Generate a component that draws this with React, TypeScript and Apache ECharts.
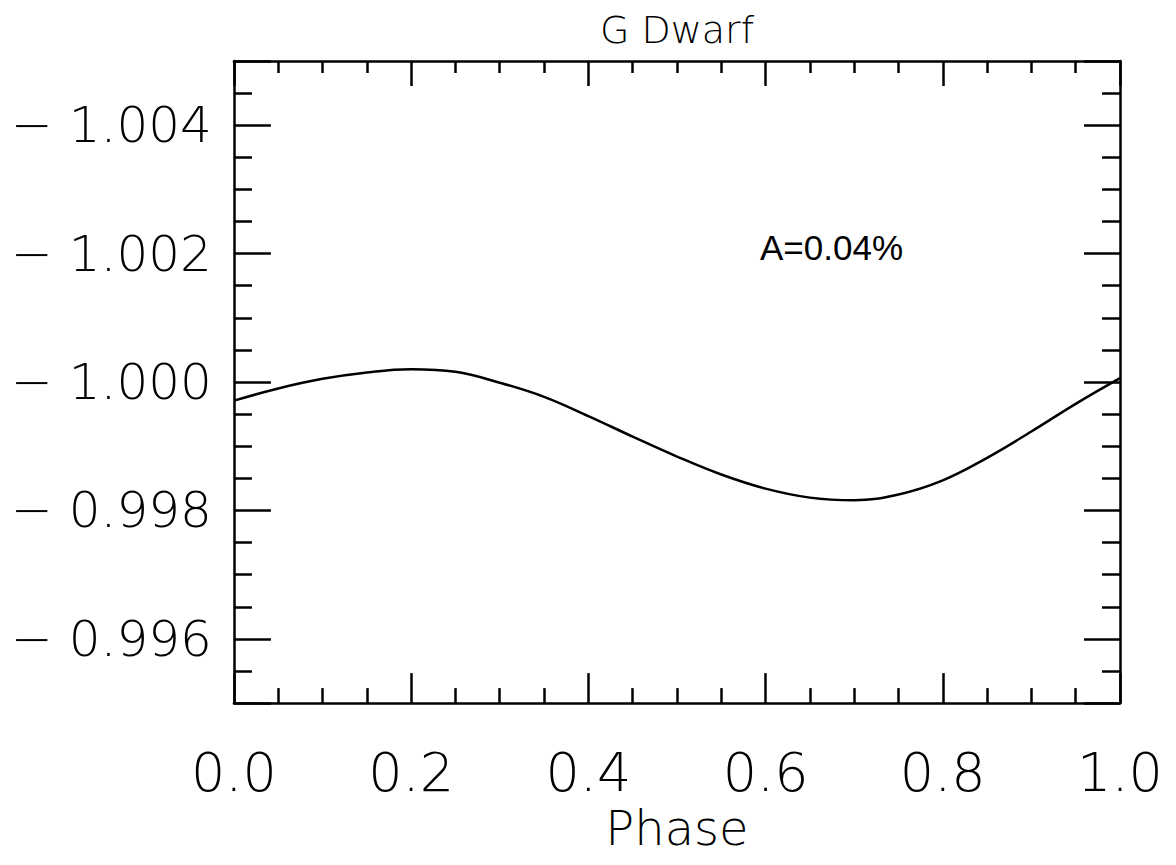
import React, { useEffect, useRef } from "react";
import * as echarts from "echarts";

const phase = [0.0, 0.05, 0.1, 0.15, 0.2, 0.25, 0.3, 0.35, 0.4, 0.45, 0.5, 0.55, 0.6, 0.65, 0.7, 0.75, 0.8, 0.85, 0.9, 0.95, 1.0];
const flux = [-0.99971, -0.9999, -1.00005, -1.00015, -1.0002, -1.00016, -0.99999, -0.99977, -0.99947, -0.99915, -0.99884, -0.99856, -0.99834, -0.9982, -0.99816, -0.99825, -0.99847, -0.99882, -0.99923, -0.99966, -1.00006];
const titleText = "G Dwarf";
const xName = "Phase";
const note = "A=0.04%";

const FONT = "'DejaVu Sans', sans-serif";

export default function App() {
  const ref = useRef<HTMLDivElement>(null);
  useEffect(() => {
    if (!ref.current) return;
    const chart = echarts.init(ref.current, null, { renderer: "svg" });
    const data = phase.map((p, i) => [p, flux[i]]);
    const axisLine = { show: true, onZero: false, lineStyle: { color: "#000", width: 2.5 } };
    const yFmt = (v: number) => (v < 0 ? "\u2212 " : "") + Math.abs(v).toFixed(3);
    chart.setOption({
      animation: false,
      backgroundColor: "#fff",
      title: {
        text: titleText,
        left: 669,
        textAlign: "center",
        top: 3,
        padding: 0,
        textStyle: { fontFamily: FONT, fontWeight: 200, fontSize: 38, color: "#000" },
      },
      grid: { left: 218, right: 48, top: 53, bottom: 143, containLabel: false },
      xAxis: [
        {
          type: "value",
          min: 0,
          max: 1,
          position: "bottom",
          axisLine,
          splitLine: { show: false },
          axisTick: { show: true, inside: true, length: 30, lineStyle: { color: "#000", width: 2.5 } },
          minorTick: { show: true, splitNumber: 4, length: 15, lineStyle: { color: "#000", width: 2.5 } },
          axisLabel: {
            margin: 42,
            fontFamily: FONT,
            fontWeight: 200,
            fontSize: 54,
            color: "#000",
            formatter: (v: number) => v.toFixed(1),
          },
          name: xName,
          nameLocation: "middle",
          nameGap: 100,
          nameTextStyle: { fontFamily: FONT, fontWeight: 200, fontSize: 48, color: "#000" },
        },
        {
          type: "value",
          min: 0,
          max: 1,
          position: "top",
          axisLine,
          splitLine: { show: false },
          axisTick: { show: true, inside: true, length: 25, lineStyle: { color: "#000", width: 2.5 } },
          minorTick: { show: true, splitNumber: 4, length: 12, lineStyle: { color: "#000", width: 2.5 } },
          axisLabel: { show: false },
        },
      ],
      yAxis: [
        {
          type: "value",
          min: -1.005,
          max: -0.995,
          inverse: true,
          position: "left",
          axisLine,
          splitLine: { show: false },
          axisTick: { show: true, inside: true, length: 37, lineStyle: { color: "#000", width: 2.5 } },
          minorTick: { show: true, splitNumber: 4, length: 18, lineStyle: { color: "#000", width: 2.5 } },
          axisLabel: {
            margin: 22,
            showMinLabel: false,
            showMaxLabel: false,
            fontFamily: FONT,
            fontWeight: 200,
            fontSize: 50,
            color: "#000",
            formatter: yFmt,
          },
        },
        {
          type: "value",
          min: -1.005,
          max: -0.995,
          inverse: true,
          position: "right",
          axisLine,
          splitLine: { show: false },
          axisTick: { show: true, inside: true, length: 36, lineStyle: { color: "#000", width: 2.5 } },
          minorTick: { show: true, splitNumber: 4, length: 18, lineStyle: { color: "#000", width: 2.5 } },
          axisLabel: { show: false },
        },
      ],
      graphic: [
        {
          type: "text",
          left: 752,
          top: 222,
          style: { text: note, fontFamily: "'Liberation Sans', Arial, sans-serif", fontSize: 35, fill: "#000" },
        },
      ],
      series: [
        {
          type: "line",
          data,
          xAxisIndex: 0,
          yAxisIndex: 0,
          smooth: 0.4,
          showSymbol: false,
          symbol: "none",
          lineStyle: { color: "#000", width: 2.5 },
        },
      ],
    });
    return () => chart.dispose();
  }, []);
  return <div ref={ref} style={{ width: 1160, height: 849 }} />;
}
